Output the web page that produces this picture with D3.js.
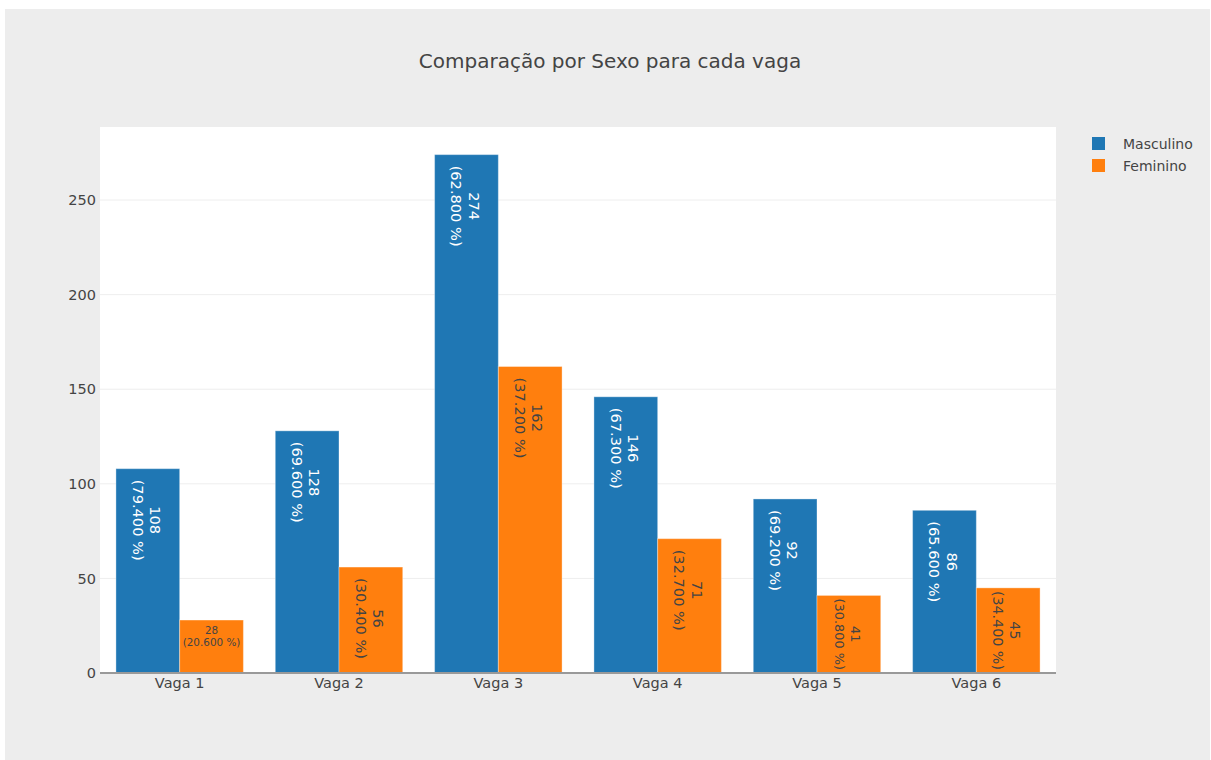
<!doctype html>
<html lang="pt">
<head>
<meta charset="utf-8" />
<title>Comparação por Sexo para cada vaga</title>
<script src="https://d3js.org/d3.v7.min.js"></script>
<style>
  body { margin: 0; background: #fff; }
  svg { display: block; font-family: "DejaVu Sans", Verdana, sans-serif; }
</style>
</head>
<body>
<div id="chart"></div>
<script>
// data
var vagas = ["Vaga 1", "Vaga 2", "Vaga 3", "Vaga 4", "Vaga 5", "Vaga 6"];
var masculino = [108, 128, 274, 146, 92, 86];
var masculinoPct = ["79.400", "69.600", "62.800", "67.300", "69.200", "65.600"];
var feminino = [28, 56, 162, 71, 41, 45];
var femininoPct = ["20.600", "30.400", "37.200", "32.700", "30.800", "34.400"];
var yTicks = [0, 50, 100, 150, 200, 250];
var series = [
  { name: "Masculino", values: masculino, pct: masculinoPct, color: "#1f77b4", text: "#ffffff" },
  { name: "Feminino", values: feminino, pct: femininoPct, color: "#ff7f0e", text: "#444444" }
];

var width = 1211, height = 760;
var margin = { top: 127, right: 155, bottom: 87, left: 100 };
var innerW = width - margin.left - margin.right,
    innerH = height - margin.top - margin.bottom;

var svg = d3.select("#chart").append("svg")
  .attr("width", width)
  .attr("height", height);

// paper background
svg.append("rect")
  .attr("x", 5).attr("y", 9)
  .attr("width", width - 6).attr("height", height - 9)
  .attr("fill", "#ededed");

svg.append("text")
  .attr("x", 610).attr("y", 68)
  .attr("text-anchor", "middle")
  .style("font-size", "20px")
  .attr("fill", "#444")
  .text("Comparação por Sexo para cada vaga");

var g = svg.append("g")
  .attr("transform", `translate(${margin.left},${margin.top})`);

g.append("rect")
  .attr("width", innerW).attr("height", innerH)
  .attr("fill", "#fff");

var x0 = d3.scaleBand().domain(vagas).range([0, innerW]).paddingInner(0.2).paddingOuter(0.1);
var x1 = d3.scaleBand().domain(series.map(s => s.name)).range([0, x0.bandwidth()]);
var y = d3.scaleLinear().domain([0, 274 * 1.0533]).range([innerH, 0]);

// grid
g.append("g")
  .selectAll("line")
  .data(yTicks.filter(t => t > 0))
  .enter().append("line")
  .attr("x1", 0).attr("x2", innerW)
  .attr("y1", d => y(d)).attr("y2", d => y(d))
  .attr("stroke", "#eeeeee")
  .attr("stroke-width", 1);

// y axis labels
var yAxis = d3.axisLeft(y).tickValues(yTicks).tickSize(0).tickPadding(4);
g.append("g")
  .call(yAxis)
  .call(a => a.select(".domain").remove())
  .call(a => a.selectAll("text").attr("fill", "#444").style("font-size", "14.5px")
    .style("font-family", "'DejaVu Sans', Verdana, sans-serif"));

// bars
var groups = g.selectAll(".vaga")
  .data(vagas)
  .enter().append("g")
  .attr("class", "vaga")
  .attr("transform", d => `translate(${x0(d)},0)`);

series.forEach(function (s) {
  groups.append("rect")
    .attr("x", x1(s.name))
    .attr("y", (d, i) => y(s.values[i]))
    .attr("width", x1.bandwidth())
    .attr("height", (d, i) => innerH - y(s.values[i]))
    .attr("fill", s.color)
    .attr("stroke", "rgba(255,255,255,0.35)")
    .attr("stroke-width", 1);
});

// inside bar labels, rotated or scaled to fit the way plotly does it
var pad = 3, fs = 14.6;
series.forEach(function (s) {
  vagas.forEach(function (v, i) {
    var bx = x0(v) + x1(s.name), bw = x1.bandwidth();
    var by = y(s.values[i]), bh = innerH - by;
    var t = g.append("text")
      .attr("fill", s.text)
      .attr("text-anchor", "middle")
      .style("font-size", fs + "px");
    t.append("tspan").attr("x", 0).attr("dy", 0).text(s.values[i]);
    t.append("tspan").attr("x", 0).attr("dy", "1.2em").text("(" + s.pct[i] + " %)");
    var bb = t.node().getBBox();
    var tw = bb.width, th = bb.height;
    var rotScale = Math.min(1, (bh - 2 * pad) / tw, (bw - 2 * pad) / th);
    var horScale = Math.min(1, (bw - 2 * pad) / tw, (bh - 2 * pad) / th);
    var cx = bb.x + tw / 2, cy = bb.y + th / 2;
    if (rotScale >= horScale) {
      var k = rotScale, len = tw * k;
      var off = Math.min(11, (bh - len) / 2);
      var px = bx + bw / 2 - 1, py = by + off + len / 2;
      t.attr("transform", `translate(${px},${py}) rotate(90) scale(${k}) translate(${-cx},${-cy})`);
    } else {
      var k2 = horScale;
      var px2 = bx + bw / 2, py2 = by + pad + 1 + th * k2 / 2;
      t.attr("transform", `translate(${px2},${py2}) scale(${k2}) translate(${-cx},${-cy})`);
    }
  });
});

// zero line + x axis labels
var xAxis = d3.axisBottom(x0).tickSize(0).tickPadding(5);
g.append("g")
  .attr("transform", `translate(0,${innerH})`)
  .call(xAxis)
  .call(a => a.select(".domain").remove())
  .call(a => a.selectAll("text").attr("fill", "#444").style("font-size", "14.5px")
    .style("font-family", "'DejaVu Sans', Verdana, sans-serif"));

g.append("line")
  .attr("x1", 0).attr("x2", innerW)
  .attr("y1", y(0)).attr("y2", y(0))
  .attr("stroke", "#999")
  .attr("stroke-width", 2);

// legend
var legend = svg.append("g").attr("transform", "translate(1092,137)");
series.forEach(function (s, i) {
  var row = legend.append("g").attr("transform", `translate(0,${i * 22})`);
  row.append("rect")
    .attr("width", 13).attr("height", 13)
    .attr("fill", s.color);
  row.append("text")
    .attr("x", 31).attr("y", 12)
    .attr("fill", "#444")
    .style("font-size", "14px")
    .text(s.name);
});
</script>
</body>
</html>
